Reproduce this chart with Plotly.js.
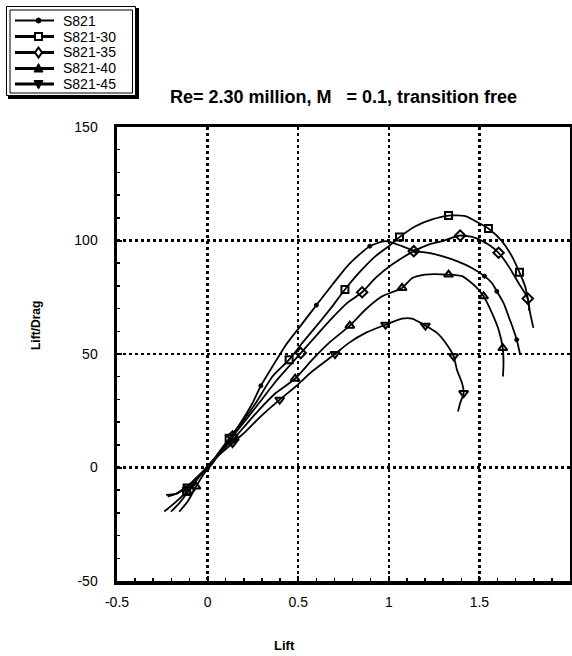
<!DOCTYPE html>
<html>
<head>
<meta charset="utf-8">
<script src="https://cdn.plot.ly/plotly-3.0.1.min.js"></script>
<style>html,body{margin:0;padding:0;background:#fff;}#chart{width:572px;height:656px;}</style>
</head>
<body>
<div id="chart"></div>
<script>
// ---- data (Lift coefficient vs Lift/Drag) ----
const seriesNames = ['S821', 'S821-30', 'S821-35', 'S821-40', 'S821-45'];

const s821_x = [-0.229,-0.174,-0.128,-0.083,-0.037,0,0.046,0.092,0.138,0.193,0.248,0.294,0.358,0.431,0.514,0.6,0.688,0.78,0.895,0.982,1.073,1.147,1.22,1.294,1.376,1.459,1.528,1.569,1.596,1.633,1.661,1.688,1.706,1.719,1.725];
const s821_y = [-12.1,-11.6,-9.1,-6.2,-2.8,-0.3,4.1,9.3,14.4,21.0,28.4,36.0,44.5,53.9,62.5,71.5,80.5,89.5,97.5,99.7,97.5,95.3,94.6,93.1,90.9,87.9,84.3,81.3,77.6,72.5,66.6,60.7,56.3,51.9,49.7];
const s821_marks = [2,5,11,15,18,21,26,28,32];

const s821_30_x = [-0.239,-0.183,-0.116,-0.064,-0.009,0.046,0.119,0.193,0.266,0.358,0.45,0.523,0.615,0.688,0.758,0.835,0.927,1.0,1.059,1.147,1.239,1.33,1.422,1.495,1.55,1.624,1.679,1.721,1.752,1.767,1.78,1.798];
const s821_30_y = [-19.4,-15.7,-10.6,-5.4,-0.3,4.9,12.9,20.3,28.4,40.1,47.5,54.9,63.7,71.0,78.4,85.7,93.1,97.5,101.5,106.3,109.3,111.0,110.7,107.8,105.3,99.7,93.1,86.0,79.9,74.4,68.1,61.5];
const s821_30_marks = [2,6,10,14,18,21,24,27];

const s821_35_x = [-0.202,-0.156,-0.101,-0.046,0,0.064,0.138,0.211,0.284,0.376,0.45,0.514,0.596,0.688,0.771,0.853,0.927,1.018,1.138,1.22,1.294,1.394,1.477,1.55,1.606,1.661,1.716,1.767,1.775];
const s821_35_y = [-19.4,-15.7,-9.9,-4.0,-0.3,6.3,13.7,21.0,28.4,37.9,44.6,50.4,57.8,65.9,72.5,77.2,83.5,89.4,95.3,98.2,99.7,102.2,101.2,98.2,94.6,88.7,81.3,74.4,69.0];
const s821_35_marks = [2,6,11,15,18,21,24,27];

const s821_40_x = [-0.156,-0.11,-0.064,-0.018,0.028,0.083,0.147,0.211,0.284,0.376,0.483,0.578,0.67,0.785,0.872,0.963,1.073,1.13,1.2,1.33,1.404,1.477,1.523,1.569,1.606,1.629,1.633,1.63];
const s821_40_y = [-19.4,-15.0,-8.4,-2.5,1.9,7.8,12.9,18.8,25.4,32.8,39.1,47.5,54.9,62.5,69.6,75.4,79.1,83.5,85.0,85.0,84.3,79.9,75.4,68.1,60.7,52.6,46.0,40.1];
const s821_40_marks = [2,6,10,13,16,19,22,25];

const s821_45_x = [-0.22,-0.165,-0.11,-0.055,0,0.064,0.138,0.211,0.284,0.398,0.486,0.578,0.703,0.78,0.872,0.982,1.073,1.128,1.202,1.266,1.321,1.358,1.376,1.404,1.413,1.394,1.382];
const s821_45_y = [-12.8,-11.3,-8.4,-4.0,0.4,5.6,10.7,15.9,21.8,29.9,35.7,42.4,50.0,54.9,59.3,62.9,65.6,65.6,62.5,59.3,54.1,49.0,43.1,37.2,32.8,28.4,24.7];
const s821_45_marks = [2,6,9,12,15,18,21,24];

const xTickVals = [-0.5, 0, 0.5, 1, 1.5, 2];
const xTickText = ['-0.5', '0', '0.5', '1', '1.5', '2'];
const yTickVals = [-50, 0, 50, 100, 150];
const yTickText = ['-50', '0', '50', '100', '150'];

const titleText = '<b>Re= 2.30 million, M\u00a0\u00a0\u00a0= 0.1, transition free</b>';
const xTitle = '<b>Lift</b>';
const yTitle = '<b>Lift/Drag</b>';

// ---- styles ----
const FONT = 'Arial, "Liberation Sans", sans-serif';
const seriesStyle = [
  {sym: 'circle', size: 4, lw: 1.8},
  {sym: 'square-open', size: 7, lw: 1.8},
  {sym: 'diamond-open', size: 8, lw: 1.8},
  {sym: 'triangle-up-open', size: 8, lw: 1.8},
  {sym: 'triangle-down-open', size: 8, lw: 1.8}
];
const seriesX = [s821_x, s821_30_x, s821_35_x, s821_40_x, s821_45_x];
const seriesY = [s821_y, s821_30_y, s821_35_y, s821_40_y, s821_45_y];
const seriesMarks = [s821_marks, s821_30_marks, s821_35_marks, s821_40_marks, s821_45_marks];

const traces = [];
seriesNames.forEach((name, i) => {
  const st = seriesStyle[i], xs = seriesX[i], ys = seriesY[i], mk = seriesMarks[i];
  traces.push({
    type: 'scatter', mode: 'lines', x: xs, y: ys, name: name,
    line: {color: 'black', width: st.lw, shape: 'spline', smoothing: 0.6},
    showlegend: false, hoverinfo: 'skip'
  });
  traces.push({
    type: 'scatter', mode: 'markers', name: name,
    x: mk.map(k => xs[k]), y: mk.map(k => ys[k]),
    marker: {symbol: st.sym, size: st.size, color: 'black',
             line: {color: 'black', width: i === 0 ? 1 : 2}},
    showlegend: false, hoverinfo: 'skip'
  });
});

// ---- page geometry ----
const W = 572, H = 656, L = 117, R = 2, T = 127, B = 75;
const pw = W - L - R, ph = H - T - B;
const fx = px => (px - L) / pw;          // page px -> paper x
const fy = py => (H - B - py) / ph;      // page px -> paper y

// ---- hand-built legend box (compact, like the reference) ----
const legRows = [20.5, 36.5, 52.5, 68.5, 84];
const shapes = [];
const P = (x0, y0, x1, y1, extra) => Object.assign({xref: 'paper', yref: 'paper', x0: fx(x0), x1: fx(x1), y0: fy(y0), y1: fy(y1)}, extra);
shapes.push(P(8, 8, 139, 99, {type: 'rect', fillcolor: 'black', line: {width: 0}}));           // shadow
shapes.push(P(6.5, 6.5, 135.5, 95.5, {type: 'rect', fillcolor: 'white', line: {color: 'black', width: 1}}));
shapes.push(P(10, 10, 132.5, 93, {type: 'rect', fillcolor: 'white', line: {color: 'black', width: 1}}));
const legAnn = [];
legRows.forEach((ry, i) => {
  shapes.push(P(15, ry, 54, ry, {type: 'line', line: {color: 'black', width: i === 0 ? 2 : 3}}));
  const cx = 38.5, s = i === 0 ? 2.5 : 4;
  const path = pts => 'M' + pts.map(p => fx(p[0]) + ',' + fy(p[1])).join(' L') + ' Z';
  if (i === 0) {
    shapes.push(P(cx - s, ry - s, cx + s, ry + s, {type: 'circle', fillcolor: 'black', line: {color: 'black', width: 1}}));
  } else if (i === 1) {
    shapes.push(P(cx - 3.5, ry - 3.5, cx + 3.5, ry + 3.5, {type: 'rect', fillcolor: 'white', line: {color: 'black', width: 2}}));
  } else if (i === 2) {
    shapes.push({type: 'path', xref: 'paper', yref: 'paper', path: path([[cx, ry - 5], [cx + 3.5, ry], [cx, ry + 5], [cx - 3.5, ry]]), fillcolor: 'white', line: {color: 'black', width: 2}});
  } else if (i === 3) {
    shapes.push({type: 'path', xref: 'paper', yref: 'paper', path: path([[cx, ry - 5], [cx + 4.5, ry + 3.5], [cx - 4.5, ry + 3.5]]), fillcolor: 'black', line: {color: 'black', width: 1}});
  } else {
    shapes.push({type: 'path', xref: 'paper', yref: 'paper', path: path([[cx, ry + 5], [cx + 4.5, ry - 3.5], [cx - 4.5, ry - 3.5]]), fillcolor: 'black', line: {color: 'black', width: 1}});
  }
  legAnn.push({text: seriesNames[i], xref: 'paper', yref: 'paper', x: fx(61), y: fy(ry), xanchor: 'left', yanchor: 'middle',
               showarrow: false, font: {family: FONT, size: 14, color: 'black'}});
});

const layout = {
  width: W, height: H,
  margin: {l: L, r: R, t: T, b: B, pad: 0},
  paper_bgcolor: 'white', plot_bgcolor: 'white',
  font: {family: FONT, size: 13, color: 'black'},
  title: {text: titleText, font: {family: FONT, size: 18, color: 'black'},
          xref: 'paper', x: 0.5, xanchor: 'center', yref: 'container', y: 1 - 97 / H, yanchor: 'middle'},
  xaxis: {
    range: [-0.5, 2], tickmode: 'array', tickvals: xTickVals, ticktext: xTickText,
    showgrid: true, gridcolor: 'black', gridwidth: 2.5, griddash: 'dot', zeroline: false,
    showline: true, linecolor: 'black', linewidth: 3.5, mirror: true,
    ticks: 'inside', ticklen: 5, tickwidth: 2, tickcolor: 'black', ticklabelstandoff: 6,
    minor: {tickmode: 'linear', tick0: 0, dtick: 0.1, ticks: 'inside', ticklen: 3, tickwidth: 1.5, tickcolor: 'black', showgrid: false},
    tickfont: {family: FONT, size: 14, color: 'black'}
  },
  yaxis: {
    range: [-50, 150], tickmode: 'array', tickvals: yTickVals, ticktext: yTickText,
    showgrid: true, gridcolor: 'black', gridwidth: 2.5, griddash: 'dot', zeroline: false,
    showline: true, linecolor: 'black', linewidth: 3.5, mirror: true,
    ticks: 'inside', ticklen: 5, tickwidth: 2, tickcolor: 'black', ticklabelstandoff: 13,
    minor: {tickmode: 'linear', tick0: 0, dtick: 10, ticks: 'inside', ticklen: 3, tickwidth: 1.5, tickcolor: 'black', showgrid: false},
    tickfont: {family: FONT, size: 14, color: 'black'}
  },
  showlegend: false,
  shapes: shapes,
  annotations: [
    {text: xTitle, xref: 'paper', yref: 'paper', x: fx(284), y: fy(645), xanchor: 'center', yanchor: 'middle', showarrow: false, font: {family: FONT, size: 13, color: 'black'}},
    {text: yTitle, xref: 'paper', yref: 'paper', x: fx(36), y: fy(326), xanchor: 'center', yanchor: 'middle', textangle: -90, showarrow: false, font: {family: FONT, size: 12, color: 'black'}}
  ].concat(legAnn)
};

Plotly.newPlot('chart', traces, layout, {staticPlot: true, displayModeBar: false});
</script>
</body>
</html>
